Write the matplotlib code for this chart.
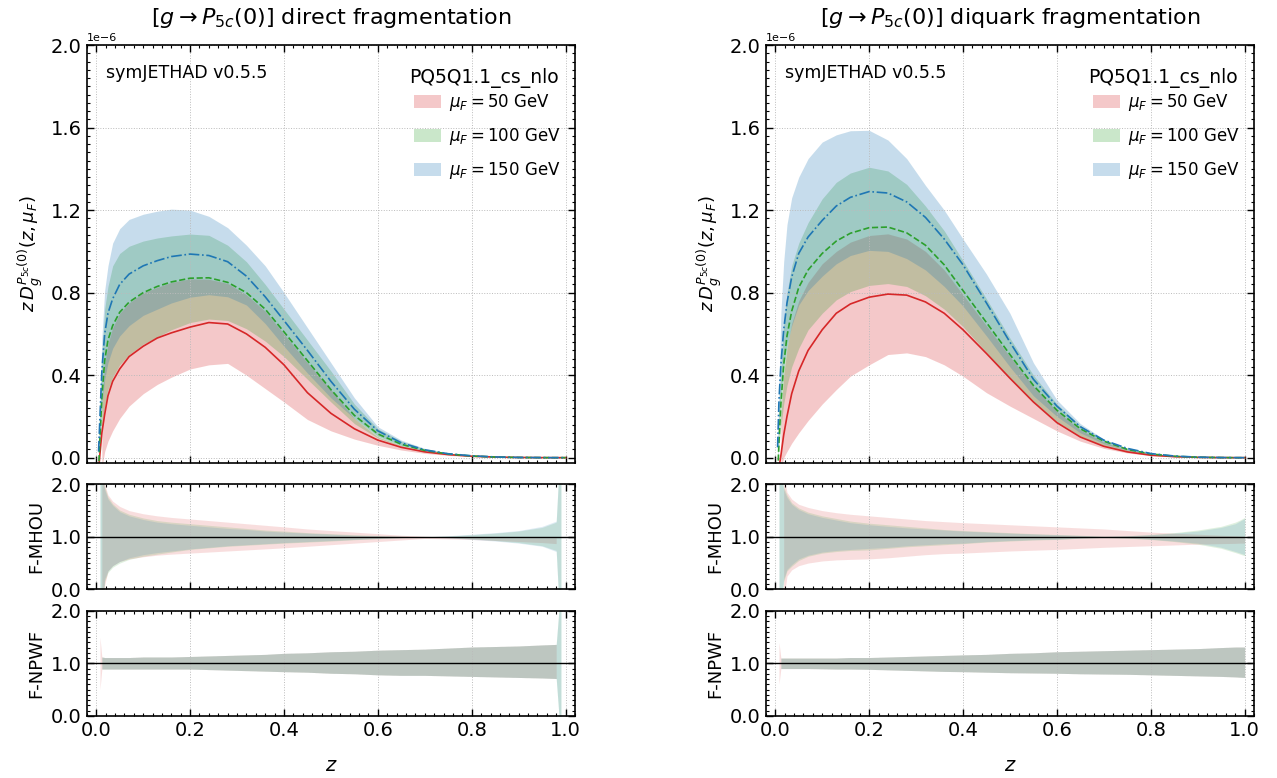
import numpy as np
import matplotlib.pyplot as plt
from matplotlib.patches import Patch
from matplotlib.ticker import MultipleLocator

nan = np.nan

# momentum fraction grid (same for every series)
z = [0.005, 0.008, 0.012, 0.018, 0.025, 0.035, 0.05, 0.07, 0.1, 0.13, 0.16, 0.2,
     0.24, 0.28, 0.32, 0.36, 0.4, 0.45, 0.5, 0.55, 0.6, 0.65, 0.7, 0.75, 0.8,
     0.85, 0.9, 0.95, 0.98, 0.99, 1.0]

scales = [50, 100, 150]
colors = {50: '#d62728', 100: '#2ca02c', 150: '#1f77b4'}
styles = {50: '-', 100: '--', 150: '-.'}

# ---- direct fragmentation (units of 1e-6): central, lower, upper
dir_c = {
    50: [-0.06, 0.02, 0.12, 0.21, 0.30, 0.37, 0.43, 0.49, 0.54, 0.58, 0.605, 0.633,
         0.655, 0.648, 0.60, 0.535, 0.45, 0.315, 0.215, 0.14, 0.085, 0.05, 0.028,
         0.015, 0.007, 0.003, 0.001, 0.0002, 0.0, 0.0, 0.0],
    100: [-0.06, 0.1, 0.29, 0.47, 0.57, 0.64, 0.705, 0.754, 0.80, 0.83, 0.852, 0.87,
          0.872, 0.85, 0.80, 0.72, 0.61, 0.47, 0.33, 0.205, 0.115, 0.065, 0.035,
          0.018, 0.008, 0.003, 0.001, 0.0002, 0.0, 0.0, 0.0],
    150: [0.03, 0.2, 0.42, 0.6, 0.70, 0.77, 0.84, 0.89, 0.93, 0.955, 0.975, 0.987,
          0.98, 0.95, 0.88, 0.78, 0.665, 0.52, 0.37, 0.235, 0.13, 0.072, 0.038,
          0.019, 0.009, 0.0035, 0.001, 0.0002, 0.0, 0.0, 0.0],
}
dir_lo = {
    50: [nan, nan, -0.05, 0.03, 0.08, 0.13, 0.19, 0.25, 0.31, 0.355, 0.39, 0.43,
         0.45, 0.457, 0.40, 0.335, 0.27, 0.185, 0.13, 0.09, 0.06, 0.037, 0.021,
         0.011, 0.005, 0.002, 0.0006, 0.0001, 0.0, 0.0, 0.0],
    100: [0.0, 0.05, 0.15, 0.25, 0.33, 0.39, 0.45, 0.5, 0.55, 0.585, 0.62, 0.655,
          0.672, 0.665, 0.625, 0.565, 0.49, 0.38, 0.27, 0.165, 0.095, 0.055, 0.03,
          0.015, 0.007, 0.0025, 0.0008, 0.0002, 0.0, 0.0, 0.0],
    150: [0.0, 0.1, 0.25, 0.38, 0.46, 0.53, 0.59, 0.64, 0.69, 0.72, 0.75, 0.778,
          0.79, 0.78, 0.74, 0.65, 0.54, 0.41, 0.29, 0.19, 0.105, 0.06, 0.033,
          0.017, 0.008, 0.003, 0.0009, 0.0002, 0.0, 0.0, 0.0],
}
dir_hi = {
    50: [nan, 0.0, 0.25, 0.45, 0.55, 0.63, 0.70, 0.75, 0.80, 0.826, 0.85, 0.867,
         0.865, 0.845, 0.79, 0.71, 0.60, 0.46, 0.33, 0.19, 0.10, 0.058, 0.031,
         0.016, 0.0075, 0.003, 0.001, 0.0002, 0.0, 0.0, 0.0],
    100: [0.0, 0.2, 0.48, 0.72, 0.83, 0.93, 0.99, 1.025, 1.05, 1.065, 1.075, 1.084,
          1.078, 1.03, 0.95, 0.84, 0.72, 0.57, 0.42, 0.26, 0.14, 0.08, 0.042,
          0.021, 0.01, 0.0035, 0.001, 0.0002, 0.0, 0.0, 0.0],
    150: [0.03, 0.3, 0.58, 0.81, 0.93, 1.04, 1.11, 1.155, 1.18, 1.195, 1.205, 1.2,
          1.17, 1.115, 1.03, 0.93, 0.80, 0.63, 0.46, 0.29, 0.15, 0.085, 0.045,
          0.022, 0.011, 0.004, 0.0012, 0.0002, 0.0, 0.0, 0.0],
}

# ---- diquark fragmentation (units of 1e-6): central, lower, upper
diq_c = {
    50: [-0.1, -0.05, 0.01, 0.11, 0.2, 0.31, 0.42, 0.52, 0.62, 0.70, 0.745, 0.778,
         0.793, 0.788, 0.755, 0.70, 0.62, 0.505, 0.385, 0.27, 0.17, 0.10, 0.055,
         0.028, 0.012, 0.005, 0.0015, 0.0003, 0.0, 0.0, 0.0],
    100: [-0.1, 0.08, 0.26, 0.45, 0.59, 0.71, 0.825, 0.91, 0.99, 1.05, 1.088, 1.115,
          1.118, 1.09, 1.03, 0.935, 0.81, 0.655, 0.50, 0.35, 0.23, 0.14, 0.08,
          0.04, 0.018, 0.007, 0.002, 0.0005, 0.0, 0.0, 0.0],
    150: [0.05, 0.28, 0.45, 0.62, 0.75, 0.875, 0.99, 1.07, 1.15, 1.22, 1.262, 1.29,
          1.283, 1.24, 1.165, 1.06, 0.935, 0.75, 0.56, 0.38, 0.25, 0.15, 0.085,
          0.045, 0.02, 0.008, 0.0025, 0.0005, 0.0, 0.0, 0.0],
}
diq_lo = {
    50: [nan, nan, -0.05, 0.0, 0.03, 0.07, 0.12, 0.18, 0.26, 0.33, 0.395, 0.45,
         0.5, 0.508, 0.49, 0.45, 0.395, 0.315, 0.25, 0.19, 0.13, 0.08, 0.045,
         0.023, 0.01, 0.004, 0.001, 0.0002, 0.0, 0.0, 0.0],
    100: [0.0, 0.05, 0.15, 0.26, 0.35, 0.44, 0.53, 0.62, 0.70, 0.765, 0.805, 0.835,
          0.844, 0.83, 0.785, 0.72, 0.635, 0.51, 0.385, 0.27, 0.175, 0.105, 0.058,
          0.03, 0.013, 0.005, 0.0015, 0.0003, 0.0, 0.0, 0.0],
    150: [0.0, 0.15, 0.3, 0.44, 0.54, 0.64, 0.74, 0.81, 0.88, 0.94, 0.98, 1.005,
          1.0, 0.965, 0.91, 0.83, 0.735, 0.59, 0.44, 0.3, 0.2, 0.12, 0.068,
          0.036, 0.016, 0.0065, 0.002, 0.0004, 0.0, 0.0, 0.0],
}
diq_hi = {
    50: [nan, 0.0, 0.2, 0.4, 0.53, 0.65, 0.76, 0.85, 0.94, 1.0, 1.045, 1.077,
         1.085, 1.06, 1.0, 0.91, 0.79, 0.64, 0.49, 0.345, 0.225, 0.135, 0.075,
         0.038, 0.017, 0.007, 0.002, 0.0004, 0.0, 0.0, 0.0],
    100: [0.0, 0.2, 0.42, 0.65, 0.8, 0.93, 1.04, 1.14, 1.255, 1.335, 1.38, 1.408,
          1.39, 1.325, 1.22, 1.1, 0.955, 0.77, 0.58, 0.40, 0.26, 0.155, 0.085,
          0.044, 0.02, 0.008, 0.0025, 0.0005, 0.0, 0.0, 0.0],
    150: [0.05, 0.35, 0.7, 0.95, 1.13, 1.26, 1.36, 1.45, 1.53, 1.565, 1.585, 1.587,
          1.54, 1.45, 1.32, 1.2, 1.06, 0.89, 0.70, 0.46, 0.28, 0.165, 0.09,
          0.045, 0.02, 0.008, 0.0025, 0.0005, 0.0, 0.0, 0.0],
}

# ---- F-MHOU ratio bands, direct
dir_mhou_hi = {
    50: [nan, nan, 2.6, 2.0, 1.8, 1.68, 1.58, 1.5, 1.44, 1.4, 1.37, 1.34, 1.31, 1.28,
         1.25, 1.22, 1.19, 1.15, 1.12, 1.09, 1.06, 1.03, 1.01, 0.995, 0.99, 0.985,
         0.98, 0.98, 0.98, nan, nan],
    100: [nan, 2.4, 2.3, 1.95, 1.76, 1.63, 1.51, 1.43, 1.36, 1.31, 1.28, 1.25, 1.22,
          1.19, 1.16, 1.13, 1.11, 1.08, 1.06, 1.04, 1.025, 1.01, 1.0, 1.015, 1.04,
          1.07, 1.11, 1.18, 1.28, 3.0, nan],
    150: [nan, 2.3, 2.2, 1.9, 1.72, 1.6, 1.48, 1.4, 1.33, 1.28, 1.25, 1.22, 1.19,
          1.16, 1.14, 1.11, 1.09, 1.07, 1.05, 1.03, 1.02, 1.01, 1.0, 1.02, 1.05,
          1.08, 1.12, 1.2, 1.3, 3.0, nan],
}
dir_mhou_lo = {
    50: [nan, nan, -0.6, 0.08, 0.35, 0.45, 0.53, 0.58, 0.62, 0.65, 0.67, 0.69, 0.71,
         0.73, 0.75, 0.77, 0.79, 0.82, 0.85, 0.88, 0.91, 0.94, 0.97, 0.96, 0.95,
         0.93, 0.91, 0.89, 0.87, nan, nan],
    100: [nan, -1.0, -0.5, 0.15, 0.32, 0.42, 0.5, 0.57, 0.63, 0.67, 0.71, 0.76, 0.79,
          0.82, 0.84, 0.86, 0.88, 0.9, 0.92, 0.945, 0.965, 0.985, 1.0, 0.985, 0.96,
          0.93, 0.89, 0.83, 0.74, -1.0, nan],
    150: [nan, -1.0, -0.4, 0.2, 0.35, 0.45, 0.53, 0.6, 0.66, 0.7, 0.73, 0.77, 0.8,
          0.83, 0.85, 0.87, 0.89, 0.91, 0.93, 0.95, 0.97, 0.985, 1.0, 0.98, 0.95,
          0.92, 0.88, 0.82, 0.72, -1.0, nan],
}

# ---- F-MHOU ratio bands, diquark
diq_mhou_hi = {
    50: [nan, nan, nan, 2.2, 1.85, 1.72, 1.62, 1.56, 1.5, 1.46, 1.43, 1.4, 1.37,
         1.34, 1.31, 1.29, 1.27, 1.25, 1.23, 1.21, 1.19, 1.17, 1.15, 1.12, 1.09,
         1.07, 1.05, 1.03, 1.02, 1.015, 1.01],
    100: [nan, 2.4, 2.3, 1.95, 1.8, 1.65, 1.55, 1.47, 1.4, 1.35, 1.3, 1.26, 1.23,
          1.2, 1.17, 1.14, 1.12, 1.1, 1.08, 1.06, 1.045, 1.03, 1.01, 1.02, 1.045,
          1.08, 1.13, 1.2, 1.28, 1.32, 1.37],
    150: [nan, 2.3, 2.2, 1.9, 1.75, 1.62, 1.52, 1.44, 1.37, 1.32, 1.27, 1.23, 1.2,
          1.17, 1.15, 1.13, 1.11, 1.09, 1.07, 1.055, 1.04, 1.025, 1.01, 1.02, 1.04,
          1.07, 1.11, 1.18, 1.25, 1.3, 1.35],
}
diq_mhou_lo = {
    50: [nan, nan, nan, -0.2, 0.25, 0.37, 0.45, 0.5, 0.54, 0.56, 0.57, 0.58, 0.6,
         0.63, 0.66, 0.68, 0.69, 0.71, 0.73, 0.745, 0.76, 0.78, 0.8, 0.815, 0.83,
         0.845, 0.86, 0.87, 0.875, 0.88, 0.88],
    100: [nan, -1.0, -0.4, 0.15, 0.35, 0.44, 0.55, 0.63, 0.69, 0.72, 0.74, 0.75,
          0.78, 0.81, 0.83, 0.85, 0.87, 0.9, 0.92, 0.94, 0.95, 0.975, 0.99, 0.975,
          0.95, 0.91, 0.86, 0.78, 0.7, 0.67, 0.64],
    150: [nan, -1.0, -0.3, 0.2, 0.38, 0.47, 0.58, 0.65, 0.71, 0.74, 0.76, 0.78,
          0.8, 0.83, 0.85, 0.87, 0.88, 0.91, 0.93, 0.945, 0.955, 0.975, 0.99, 0.98,
          0.955, 0.92, 0.88, 0.8, 0.72, 0.69, 0.66],
}

# ---- F-NPWF ratio bands
dir_npwf_hi = {
    50: [nan, 1.5, 1.12, 1.11, 1.11, 1.11, 1.11, 1.11, 1.12, 1.12, 1.12, 1.13, 1.14,
         1.15, 1.16, 1.17, 1.19, 1.2, 1.22, 1.23, 1.25, 1.26, 1.27, 1.29, 1.31,
         1.32, 1.33, 1.35, 1.36, nan, nan],
    100: [nan, nan, 1.12, 1.11, 1.11, 1.11, 1.11, 1.11, 1.12, 1.12, 1.12, 1.13, 1.14,
          1.15, 1.16, 1.17, 1.19, 1.2, 1.22, 1.23, 1.25, 1.26, 1.27, 1.29, 1.31,
          1.32, 1.33, 1.35, 1.36, 2.5, nan],
    150: [nan, nan, 1.12, 1.11, 1.11, 1.11, 1.11, 1.11, 1.12, 1.12, 1.12, 1.13, 1.14,
          1.15, 1.16, 1.17, 1.19, 1.2, 1.22, 1.23, 1.25, 1.26, 1.27, 1.29, 1.31,
          1.32, 1.33, 1.35, 1.36, 2.5, nan],
}
dir_npwf_lo = {
    50: [nan, 0.5, 0.89, 0.89, 0.89, 0.89, 0.89, 0.89, 0.89, 0.89, 0.89, 0.89, 0.88,
         0.87, 0.86, 0.85, 0.84, 0.83, 0.81, 0.8, 0.78, 0.77, 0.77, 0.76, 0.75,
         0.74, 0.73, 0.72, 0.71, nan, nan],
    100: [nan, nan, 0.89, 0.89, 0.89, 0.89, 0.89, 0.89, 0.89, 0.89, 0.89, 0.89, 0.88,
          0.87, 0.86, 0.85, 0.84, 0.83, 0.81, 0.8, 0.78, 0.77, 0.77, 0.76, 0.75,
          0.74, 0.73, 0.72, 0.71, -0.5, nan],
    150: [nan, nan, 0.89, 0.89, 0.89, 0.89, 0.89, 0.89, 0.89, 0.89, 0.89, 0.89, 0.88,
          0.87, 0.86, 0.85, 0.84, 0.83, 0.81, 0.8, 0.78, 0.77, 0.77, 0.76, 0.75,
          0.74, 0.73, 0.72, 0.71, -0.5, nan],
}
diq_npwf_hi = {
    50: [nan, 1.4, 1.1, 1.1, 1.1, 1.1, 1.1, 1.1, 1.1, 1.1, 1.11, 1.11, 1.12, 1.13,
         1.14, 1.15, 1.16, 1.17, 1.19, 1.2, 1.22, 1.23, 1.24, 1.25, 1.26, 1.27,
         1.28, 1.3, 1.31, 1.31, 1.31],
    100: [nan, nan, 1.1, 1.1, 1.1, 1.1, 1.1, 1.1, 1.1, 1.1, 1.11, 1.11, 1.12, 1.13,
          1.14, 1.15, 1.16, 1.17, 1.19, 1.2, 1.22, 1.23, 1.24, 1.25, 1.26, 1.27,
          1.28, 1.3, 1.31, 1.31, 1.31],
    150: [nan, nan, 1.1, 1.1, 1.1, 1.1, 1.1, 1.1, 1.1, 1.1, 1.11, 1.11, 1.12, 1.13,
          1.14, 1.15, 1.16, 1.17, 1.19, 1.2, 1.22, 1.23, 1.24, 1.25, 1.26, 1.27,
          1.28, 1.3, 1.31, 1.31, 1.31],
}
diq_npwf_lo = {
    50: [nan, 0.6, 0.9, 0.9, 0.9, 0.9, 0.9, 0.9, 0.895, 0.89, 0.89, 0.885, 0.875,
         0.865, 0.855, 0.845, 0.84, 0.83, 0.82, 0.815, 0.81, 0.8, 0.795, 0.79,
         0.78, 0.77, 0.76, 0.75, 0.74, 0.735, 0.73],
    100: [nan, nan, 0.9, 0.9, 0.9, 0.9, 0.9, 0.9, 0.895, 0.89, 0.89, 0.885, 0.875,
          0.865, 0.855, 0.845, 0.84, 0.83, 0.82, 0.815, 0.81, 0.8, 0.795, 0.79,
          0.78, 0.77, 0.76, 0.75, 0.74, 0.735, 0.73],
    150: [nan, nan, 0.9, 0.9, 0.9, 0.9, 0.9, 0.9, 0.895, 0.89, 0.89, 0.885, 0.875,
          0.865, 0.855, 0.845, 0.84, 0.83, 0.82, 0.815, 0.81, 0.8, 0.795, 0.79,
          0.78, 0.77, 0.76, 0.75, 0.74, 0.735, 0.73],
}

titles = [r'$[g \to P_{5c}(0)]$ direct fragmentation',
          r'$[g \to P_{5c}(0)]$ diquark fragmentation']

plt.rcParams['font.size'] = 13
plt.rcParams['mathtext.fontset'] = 'dejavusans'

fig = plt.figure(figsize=(12.77, 7.78), dpi=100)
gs = fig.add_gridspec(3, 2, height_ratios=[418, 105, 105], hspace=0.103,
                      wspace=0.391, left=0.068, right=0.982, top=0.942, bottom=0.080)


def style_axis(ax):
    ax.tick_params(which='both', direction='in', top=True, right=True, labelsize=14)
    ax.tick_params(which='major', length=5, width=1)
    ax.tick_params(which='minor', length=2.5, width=0.8)
    ax.xaxis.set_major_locator(MultipleLocator(0.2))
    ax.xaxis.set_minor_locator(MultipleLocator(0.02))
    ax.grid(True, which='major', linestyle=':', linewidth=0.7, color='#bbbbbb')
    ax.set_xlim(-0.02, 1.02)
    for s in ax.spines.values():
        s.set_linewidth(1.2)


zz = np.array(z)
data = [(dir_c, dir_lo, dir_hi, dir_mhou_lo, dir_mhou_hi, dir_npwf_lo, dir_npwf_hi),
        (diq_c, diq_lo, diq_hi, diq_mhou_lo, diq_mhou_hi, diq_npwf_lo, diq_npwf_hi)]

for col in range(2):
    cen, blo, bhi, mlo, mhi, nlo, nhi = data[col]
    ax = fig.add_subplot(gs[0, col])
    ax1 = fig.add_subplot(gs[1, col], sharex=ax)
    ax2 = fig.add_subplot(gs[2, col], sharex=ax)

    for mu in scales:
        lo = np.array(blo[mu]) * 1e-6
        hi = np.array(bhi[mu]) * 1e-6
        ax.fill_between(zz, lo, hi, color=colors[mu], alpha=0.25, linewidth=0)
        ax1.fill_between(zz, mlo[mu], mhi[mu], color=colors[mu], alpha=0.15, linewidth=0)
        ax2.fill_between(zz, nlo[mu], nhi[mu], color=colors[mu], alpha=0.15, linewidth=0)
    for mu in scales:
        c = np.array(cen[mu]) * 1e-6
        ax.plot(zz, c, color=colors[mu], ls=styles[mu], lw=1.2)

    style_axis(ax)
    ax.set_ylim(-0.025e-6, 2.0e-6)
    ax.yaxis.set_major_locator(MultipleLocator(0.4e-6))
    ax.yaxis.set_minor_locator(MultipleLocator(0.04e-6))
    ax.yaxis.get_offset_text().set_fontsize(8)
    ax.tick_params(labelbottom=False)
    ax.set_title(titles[col], fontsize=16, pad=15)
    ax.set_ylabel(r'$z\,D_g^{P_{5c}(0)}(z,\mu_F)$', fontsize=13)
    ax.text(0.04, 0.955, 'symJETHAD v0.5.5', transform=ax.transAxes,
            fontsize=12.5, va='top', ha='left')
    ax.text(0.967, 0.945, 'PQ5Q1.1_cs_nlo', transform=ax.transAxes,
            fontsize=13.5, va='top', ha='right')
    handles = [Patch(facecolor=colors[mu], alpha=0.25, edgecolor='none') for mu in scales]
    labels = [r'$\mu_F = %d$ GeV' % mu for mu in scales]
    ax.legend(handles, labels, loc='upper right', bbox_to_anchor=(0.985, 0.903),
              frameon=False, fontsize=12, labelspacing=0.78, borderaxespad=0,
              handlelength=1.6, handleheight=0.8, handletextpad=0.5)

    for a, lab in [(ax1, 'F-MHOU'), (ax2, 'F-NPWF')]:
        style_axis(a)
        a.axhline(1.0, color='black', lw=1)
        a.set_ylim(0, 2)
        a.yaxis.set_major_locator(MultipleLocator(1.0))
        a.yaxis.set_minor_locator(MultipleLocator(0.1))
        a.yaxis.set_major_formatter(plt.FormatStrFormatter('%.1f'))
        a.set_ylabel(lab, fontsize=13)
    ax1.tick_params(labelbottom=False)
    ax2.set_xlabel(r'$z$', fontsize=14, labelpad=12)
    fig.align_ylabels([ax, ax1, ax2])

fig.savefig('out.png', dpi=100)
